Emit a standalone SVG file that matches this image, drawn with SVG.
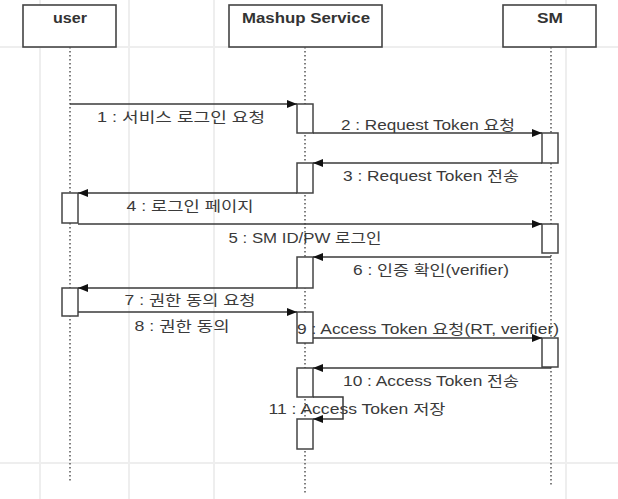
<svg xmlns="http://www.w3.org/2000/svg" width="618" height="499" viewBox="0 0 618 499">
<style>
.grid{stroke:#eeeeee;stroke-width:2;fill:none}
.box{fill:#ffffff;stroke:#444444;stroke-width:1.6}
.title{font-family:"Liberation Sans","Noto Sans CJK KR",sans-serif;font-size:14px;font-weight:bold;fill:#333333;text-anchor:middle}
.life{stroke:#555555;stroke-width:1.5;stroke-dasharray:1.5 2.5;fill:none}
.act{fill:#ffffff;stroke:#444444;stroke-width:1.5}
.msg{stroke:#3a3a3a;stroke-width:1.5;fill:none;marker-end:url(#ah)}
.lbl{font-family:"Liberation Sans","Noto Sans CJK KR",sans-serif;font-size:14px;fill:#3a3a3a;text-anchor:middle}
</style>
<defs>
<marker id="ah" viewBox="0 0 10 8" refX="10" refY="4" markerWidth="10" markerHeight="8" markerUnits="userSpaceOnUse" orient="auto">
<path d="M0,0 L10,4 L0,8 Z" fill="#111111"/>
</marker>
</defs>
<rect x="0" y="0" width="618" height="499" fill="#ffffff"/>
<g id="background">
<path class="grid" d="M0,47 H618 M0,463 H618 M40,0 V499 M129,0 V499 M214,0 V499 M566,0 V499"/>
</g>
<g id="user">
<rect class="box" x="23" y="5" width="93" height="42"/>
<text class="title" x="70" y="23" textLength="34" lengthAdjust="spacingAndGlyphs">user</text>
<line class="life" x1="70" y1="47" x2="70" y2="481"/>
<rect class="act" x="62" y="193" width="16" height="30"/>
<rect class="act" x="62" y="288" width="16" height="28"/>
</g>
<g id="mashup">
<rect class="box" x="229" y="5" width="153" height="42"/>
<text class="title" x="306" y="23" textLength="128" lengthAdjust="spacingAndGlyphs">Mashup Service</text>
<line class="life" x1="305" y1="47" x2="305" y2="493"/>
<rect class="act" x="297" y="104" width="16" height="29"/>
<rect class="act" x="297" y="163" width="16" height="30"/>
<rect class="act" x="297" y="257" width="16" height="31"/>
<rect class="act" x="297" y="312" width="16" height="31"/>
<rect class="act" x="297" y="368" width="16" height="29"/>
<rect class="act" x="297" y="419" width="16" height="30"/>
</g>
<g id="sm">
<rect class="box" x="503" y="5" width="93" height="42"/>
<text class="title" x="550" y="23" textLength="26" lengthAdjust="spacingAndGlyphs">SM</text>
<line class="life" x1="551" y1="47" x2="551" y2="485"/>
<rect class="act" x="542" y="133" width="16" height="30"/>
<rect class="act" x="542" y="224" width="16" height="29"/>
<rect class="act" x="542" y="338" width="16" height="29"/>
</g>
<g id="connectors">
<line class="msg" x1="70" y1="104" x2="297" y2="104"/>
<line class="msg" x1="313" y1="133" x2="542" y2="133"/>
<line class="msg" x1="542" y1="163" x2="313" y2="163"/>
<line class="msg" x1="297" y1="193" x2="78" y2="193"/>
<line class="msg" x1="78" y1="224" x2="542" y2="224"/>
<line class="msg" x1="551" y1="257" x2="313" y2="257"/>
<line class="msg" x1="297" y1="288" x2="78" y2="288"/>
<line class="msg" x1="78" y1="312" x2="297" y2="312"/>
<line class="msg" x1="313" y1="338" x2="542" y2="338"/>
<line class="msg" x1="551" y1="368" x2="313" y2="368"/>
<path class="msg" d="M313,397 H343 V419 H313"/>
</g>
<g id="labels">
<text class="lbl" x="181" y="122" textLength="168" lengthAdjust="spacingAndGlyphs">1 : 서비스 로그인 요청</text>
<text class="lbl" x="428" y="130" textLength="174" lengthAdjust="spacingAndGlyphs">2 : Request Token 요청</text>
<text class="lbl" x="431" y="181" textLength="176" lengthAdjust="spacingAndGlyphs">3 : Request Token 전송</text>
<text class="lbl" x="190" y="211" textLength="127" lengthAdjust="spacingAndGlyphs">4 : 로그인 페이지</text>
<text class="lbl" x="305" y="243" textLength="153" lengthAdjust="spacingAndGlyphs">5 : SM ID/PW 로그인</text>
<text class="lbl" x="431" y="275" textLength="156" lengthAdjust="spacingAndGlyphs">6 : 인증 확인(verifier)</text>
<text class="lbl" x="190" y="305" textLength="131" lengthAdjust="spacingAndGlyphs">7 : 권한 동의 요청</text>
<text class="lbl" x="182" y="331" textLength="95" lengthAdjust="spacingAndGlyphs">8 : 권한 동의</text>
<text class="lbl" x="428" y="334" textLength="262" lengthAdjust="spacingAndGlyphs">9 : Access Token 요청(RT, verifier)</text>
<text class="lbl" x="431" y="386" textLength="176" lengthAdjust="spacingAndGlyphs">10 : Access Token 전송</text>
<text class="lbl" x="357" y="414" textLength="177" lengthAdjust="spacingAndGlyphs">11 : Access Token 저장</text>
</g>
</svg>
